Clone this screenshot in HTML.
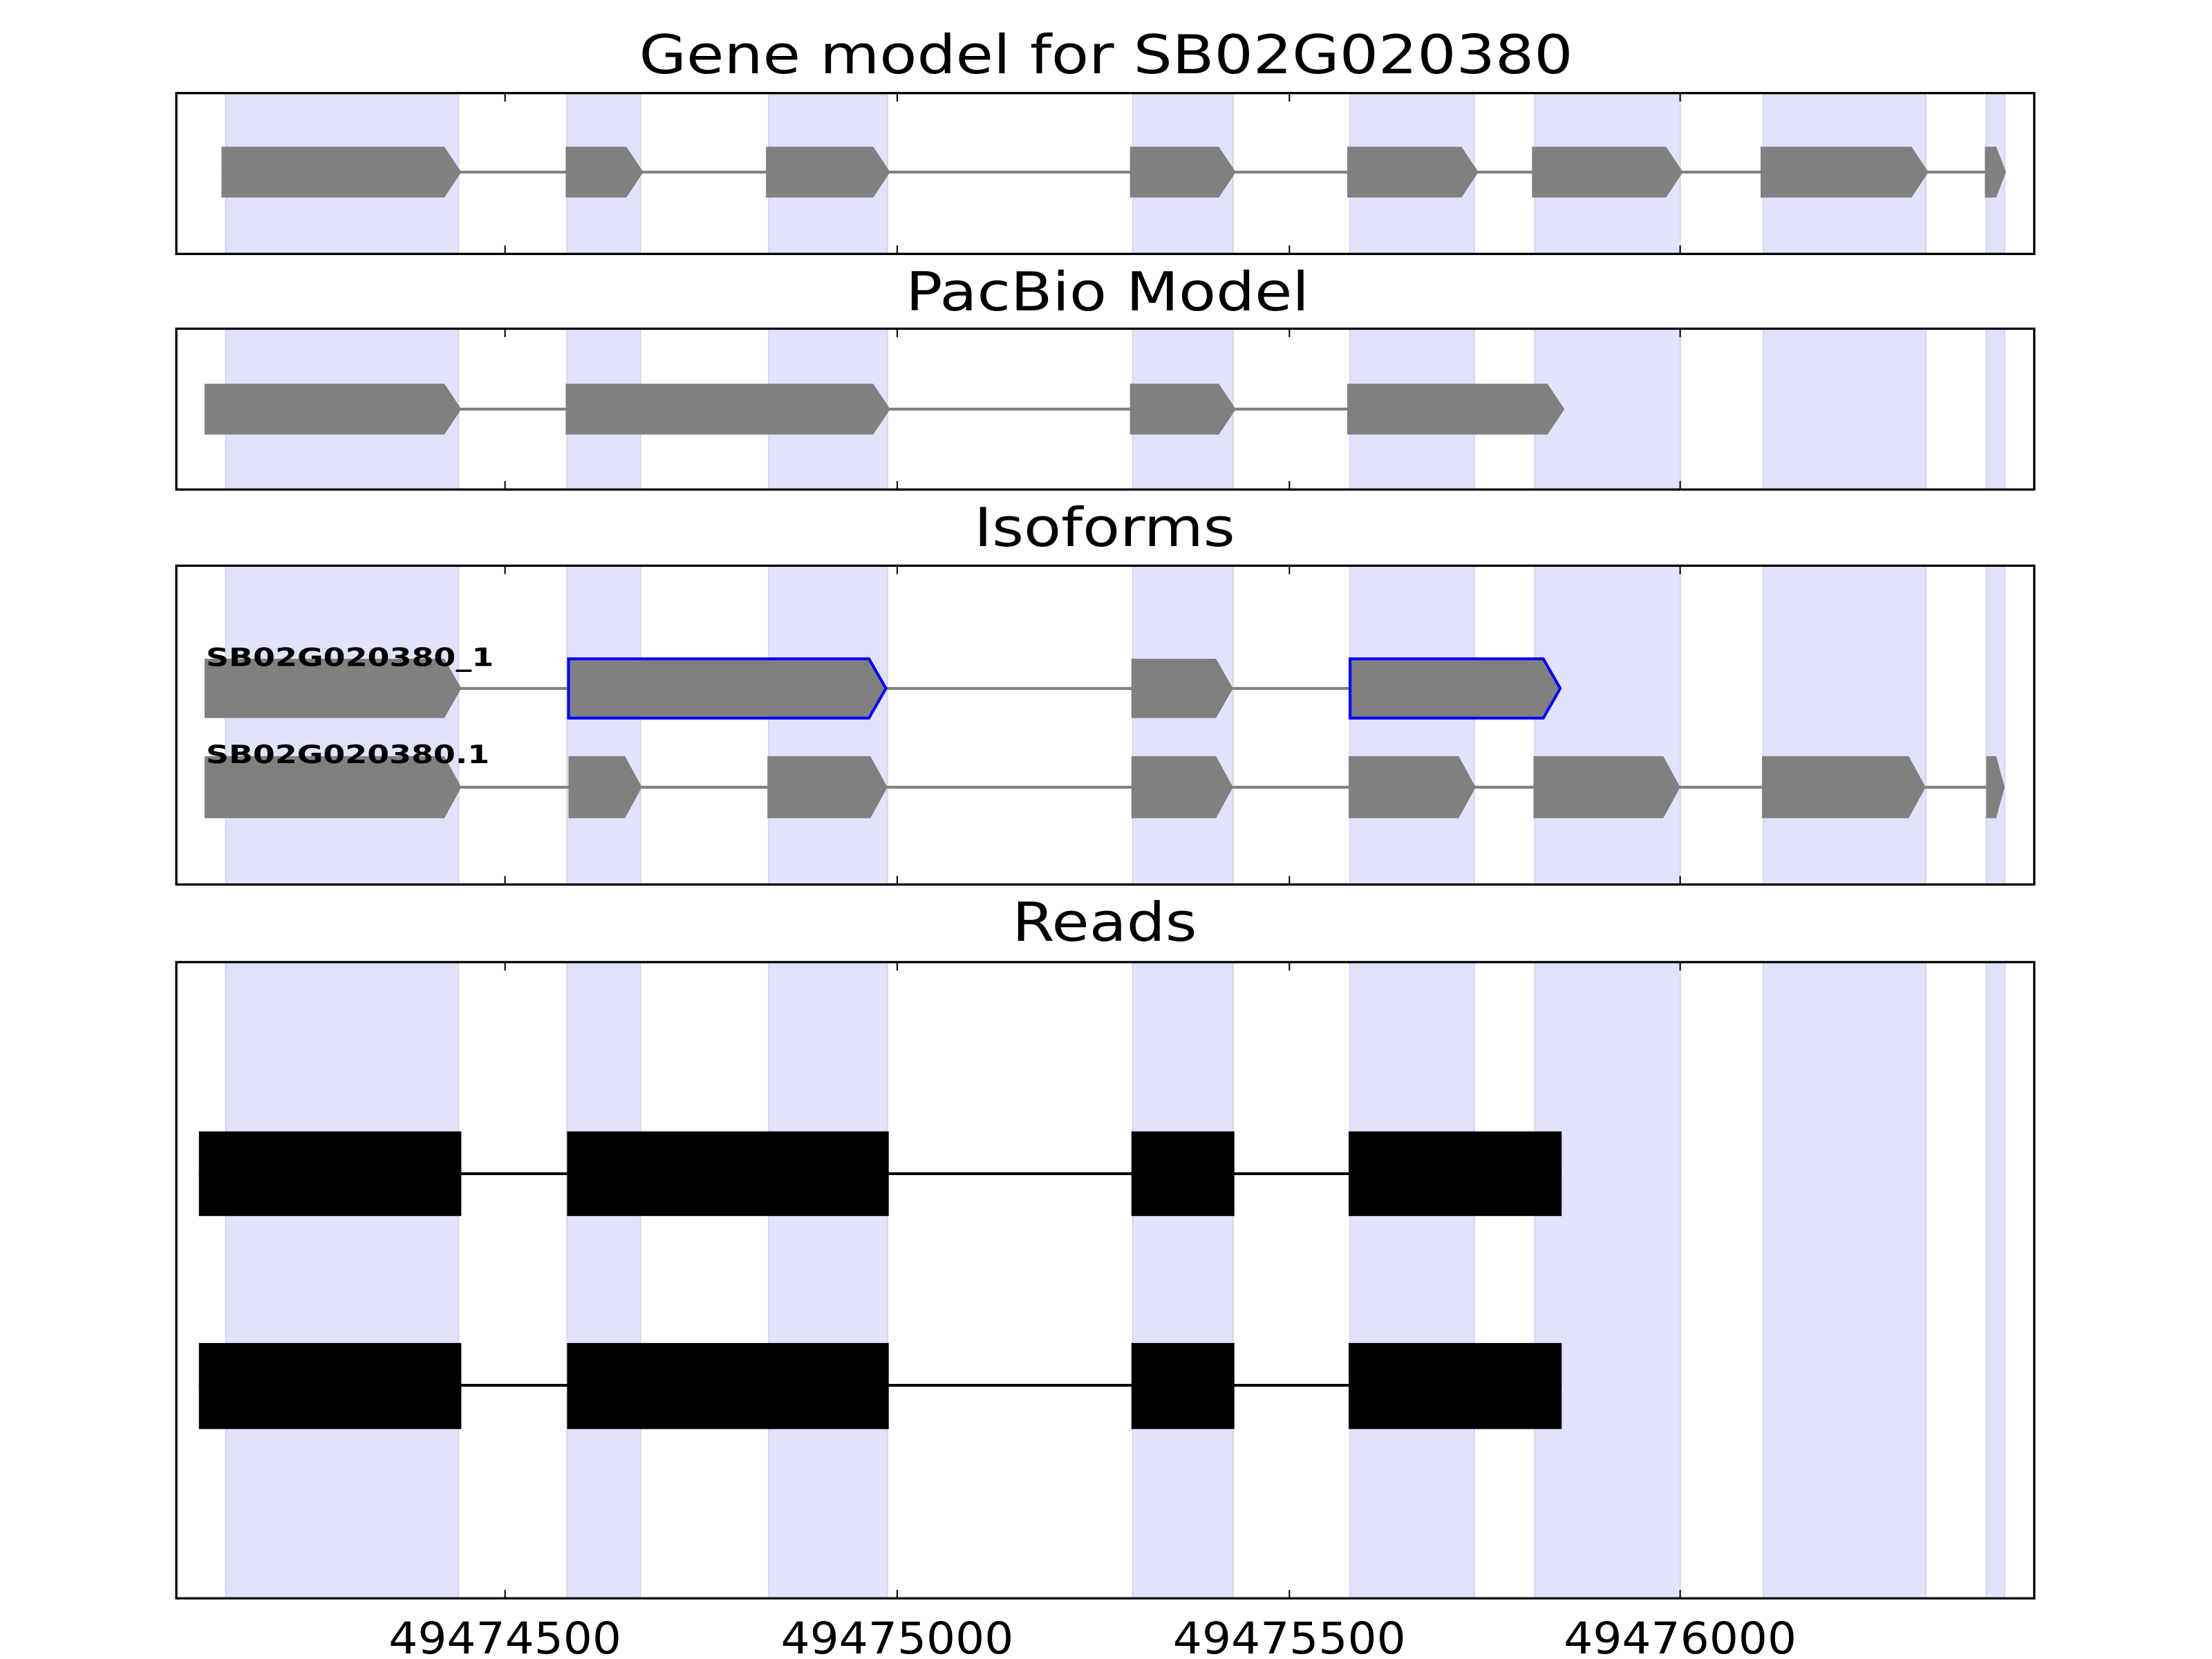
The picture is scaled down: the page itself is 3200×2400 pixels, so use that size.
<!DOCTYPE html>
<html><head><meta charset="utf-8"><style>html,body{margin:0;padding:0;background:#fff}svg{display:block}</style></head>
<body>
<svg xmlns="http://www.w3.org/2000/svg" width="3200" height="2400" viewBox="0 0 1568 1176" font-family="'DejaVu Sans','Liberation Sans',sans-serif">
<rect width="1568" height="1176" fill="#fff"/>
<g font-size="38" text-anchor="middle" fill="#000">
<text x="784" y="52" textLength="662" lengthAdjust="spacingAndGlyphs">Gene model for SB02G020380</text>
<text x="785" y="220" textLength="286" lengthAdjust="spacingAndGlyphs">PacBio Model</text>
<text x="783" y="387" textLength="185" lengthAdjust="spacingAndGlyphs">Isoforms</text>
<text x="783" y="667" textLength="131" lengthAdjust="spacingAndGlyphs">Reads</text>
</g>
<g fill="#e2e2fc" stroke="#d8d8ee" stroke-width="1.2">
<rect x="160" y="66" width="165" height="114"/><rect x="402" y="66" width="52" height="114"/><rect x="545" y="66" width="84" height="114"/><rect x="803" y="66" width="71" height="114"/><rect x="957" y="66" width="88" height="114"/><rect x="1088" y="66" width="103" height="114"/><rect x="1250" y="66" width="115" height="114"/><rect x="1408" y="66" width="13" height="114"/>
<rect x="160" y="233" width="165" height="114"/><rect x="402" y="233" width="52" height="114"/><rect x="545" y="233" width="84" height="114"/><rect x="803" y="233" width="71" height="114"/><rect x="957" y="233" width="88" height="114"/><rect x="1088" y="233" width="103" height="114"/><rect x="1250" y="233" width="115" height="114"/><rect x="1408" y="233" width="13" height="114"/>
<rect x="160" y="401" width="165" height="226"/><rect x="402" y="401" width="52" height="226"/><rect x="545" y="401" width="84" height="226"/><rect x="803" y="401" width="71" height="226"/><rect x="957" y="401" width="88" height="226"/><rect x="1088" y="401" width="103" height="226"/><rect x="1250" y="401" width="115" height="226"/><rect x="1408" y="401" width="13" height="226"/>
<rect x="160" y="682" width="165" height="451"/><rect x="402" y="682" width="52" height="451"/><rect x="545" y="682" width="84" height="451"/><rect x="803" y="682" width="71" height="451"/><rect x="957" y="682" width="88" height="451"/><rect x="1088" y="682" width="103" height="451"/><rect x="1250" y="682" width="115" height="451"/><rect x="1408" y="682" width="13" height="451"/>
</g>
<line x1="157" y1="122" x2="1420" y2="122" stroke="#808080" stroke-width="2"/>
<g fill="#808080">
<polygon points="157,104 315,104 327,122 315,140 157,140"/>
<polygon points="401,104 444,104 456,122 444,140 401,140"/>
<polygon points="543,104 619,104 631,122 619,140 543,140"/>
<polygon points="801,104 864,104 876,122 864,140 801,140"/>
<polygon points="955,104 1036,104 1048,122 1036,140 955,140"/>
<polygon points="1086,104 1181,104 1193,122 1181,140 1086,140"/>
<polygon points="1248,104 1355,104 1367,122 1355,140 1248,140"/>
<polygon points="1407,104 1415,104 1422,122 1415,140 1407,140"/>
</g>
<line x1="145" y1="290" x2="1105" y2="290" stroke="#808080" stroke-width="2"/>
<g fill="#808080">
<polygon points="145,272 315,272 327,290 315,308 145,308"/>
<polygon points="401,272 619,272 631,290 619,308 401,308"/>
<polygon points="801,272 864,272 876,290 864,308 801,308"/>
<polygon points="955,272 1097,272 1109,290 1097,308 955,308"/>
</g>
<line x1="145" y1="488" x2="1104" y2="488" stroke="#808080" stroke-width="2"/>
<g fill="#808080">
<polygon points="145,467 315,467 327,488 315,509 145,509"/>
<polygon points="802,467 862,467 874,488 862,509 802,509"/>
</g>
<g fill="#808080" stroke="#0000ff" stroke-width="2">
<polygon points="403,467 616,467 628,488 616,509 403,509"/>
<polygon points="957,467 1094,467 1106,488 1094,509 957,509"/>
</g>
<line x1="145" y1="558" x2="1420" y2="558" stroke="#808080" stroke-width="2"/>
<g fill="#808080">
<polygon points="145,536 315,536 327,558 315,580 145,580"/>
<polygon points="403,536 443,536 455,558 443,580 403,580"/>
<polygon points="544,536 617,536 629,558 617,580 544,580"/>
<polygon points="802,536 862,536 874,558 862,580 802,580"/>
<polygon points="956,536 1034,536 1046,558 1034,580 956,580"/>
<polygon points="1087,536 1179,536 1191,558 1179,580 1087,580"/>
<polygon points="1249,536 1353,536 1365,558 1353,580 1249,580"/>
<polygon points="1408,536 1415,536 1421,558 1415,580 1408,580"/>
</g>
<g font-size="18" font-weight="bold" fill="#000">
<text x="146" y="472" textLength="204" lengthAdjust="spacingAndGlyphs">SB02G020380_1</text>
<text x="146" y="541" textLength="201" lengthAdjust="spacingAndGlyphs">SB02G020380.1</text>
</g>
<g stroke="#000" stroke-width="2">
<line x1="141" y1="832" x2="1107" y2="832"/>
<line x1="141" y1="982" x2="1107" y2="982"/>
</g>
<g fill="#000">
<rect x="141" y="802" width="186" height="60"/><rect x="402" y="802" width="228" height="60"/><rect x="802" y="802" width="73" height="60"/><rect x="956" y="802" width="151" height="60"/>
<rect x="141" y="952" width="186" height="61"/><rect x="402" y="952" width="228" height="61"/><rect x="802" y="952" width="73" height="61"/><rect x="956" y="952" width="151" height="61"/>
</g>
<g fill="none" stroke="#000" stroke-width="1.6">
<rect x="125" y="66" width="1317" height="114"/>
<rect x="125" y="233" width="1317" height="114"/>
<rect x="125" y="401" width="1317" height="226"/>
<rect x="125" y="682" width="1317" height="451"/>
</g>
<g stroke="#000" stroke-width="1">
<path d="M358,66v6M636,66v6M914,66v6M1191,66v6M358,180v-6M636,180v-6M914,180v-6M1191,180v-6"/>
<path d="M358,233v6M636,233v6M914,233v6M1191,233v6M358,347v-6M636,347v-6M914,347v-6M1191,347v-6"/>
<path d="M358,401v6M636,401v6M914,401v6M1191,401v6M358,627v-6M636,627v-6M914,627v-6M1191,627v-6"/>
<path d="M358,682v6M636,682v6M914,682v6M1191,682v6M358,1133v-6M636,1133v-6M914,1133v-6M1191,1133v-6"/>
</g>
<g font-size="31" text-anchor="middle" fill="#000">
<text x="358" y="1172" textLength="165" lengthAdjust="spacingAndGlyphs">49474500</text>
<text x="636" y="1172" textLength="165" lengthAdjust="spacingAndGlyphs">49475000</text>
<text x="914" y="1172" textLength="165" lengthAdjust="spacingAndGlyphs">49475500</text>
<text x="1191" y="1172" textLength="165" lengthAdjust="spacingAndGlyphs">49476000</text>
</g>
</svg>
</body></html>
